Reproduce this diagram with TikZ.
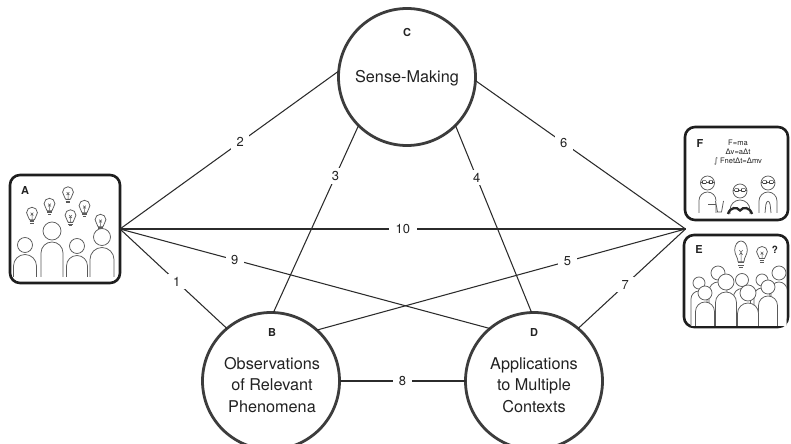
\documentclass[tikz,border=0pt]{standalone}
\usepackage{fontspec}
\setmainfont{TeX Gyre Heros}
\newfontfamily\dejavu{DejaVu Sans}
\definecolor{circcol}{HTML}{3C3C3C}
\definecolor{boxcol}{HTML}{1E1E1E}
\definecolor{linecol}{HTML}{2B2B2B}
\definecolor{figcol}{HTML}{5A5A5A}
\definecolor{txtcol}{HTML}{222222}
\newcommand{\Dl}{{\dejavu Δ}}
\newcommand{\pers}[5]{%
  \draw[fig,fill=white] (#1-#4,#5) -- (#1-#4,#2+#3+2+#4) arc[start angle=180,end angle=360,radius=#4] -- (#1+#4,#5);
  \draw[fig,fill=white] (#1,#2) circle[radius=#3];
}
\newcommand{\glasses}[2]{%
  \draw[fig] (#1-7,#2) -- (#1+7,#2);
  \fill[figcol!70!black,rounded corners=0.8bp] (#1-5.6,#2-1.7) rectangle (#1-1,#2+1.9);
  \fill[figcol!70!black,rounded corners=0.8bp] (#1+1,#2-1.7) rectangle (#1+5.6,#2+1.9);
  \fill[white] (#1-4.6,#2-0.8) rectangle (#1-2,#2+1);
  \fill[white] (#1+2,#2-0.8) rectangle (#1+4.6,#2+1);
}
\tikzset{
  fig/.style={draw=figcol,line width=0.75bp},
  circ/.style={circle,draw=circcol,line width=2.8bp,minimum size=137bp,inner sep=0pt,outer sep=0pt},
  panel/.style={draw=boxcol,line width=2.6bp,rounded corners=10bp,inner sep=0pt,outer sep=0pt},
  conn/.style={draw=linecol,line width=1.05bp},
  num/.style={fill=white,inner xsep=5.5bp,inner ysep=3bp,text=txtcol,font=\fontsize{13}{13}\selectfont},
  letter/.style={text=txtcol,font=\bfseries\fontsize{11}{11}\selectfont},
  maintext/.style={text=txtcol,align=center,font=\fontsize{16.3}{21.5}\selectfont},
  formula/.style={text=txtcol,font=\fontsize{7.6}{9}\selectfont},
  bulbpic/.pic={
    \draw[fig,fill=white] (-1.6,3) .. controls (-1.8,1.2) and (-3.5,0.2) .. (-3.5,-1.5)
      arc[start angle=180,end angle=360,radius=3.5] .. controls (3.5,0.2) and (1.8,1.2) .. (1.6,3) -- cycle;
    \draw[fig] (-1.6,3.2) -- (1.6,3.2) (-1.6,4.3) -- (1.6,4.3) (-1,5.3) -- (1,5.3);
    \draw[fig,line width=0.5bp] (0,3) -- (0,-0.6) (-0.9,-1.5) -- (0.9,0.3) (0.9,-1.5) -- (-0.9,0.3);
  }
}
\begin{document}
\begin{tikzpicture}[x=1bp,y=-1bp]
\useasboundingbox (0,0) rectangle (791,444);
\fill[white] (0,0) rectangle (791,444);

% panels
\node[panel,minimum width=110bp,minimum height=108bp] (A) at (65,229) {};
\node[panel,minimum width=103bp,minimum height=93bp] (F) at (736.5,173.5) {};
\node[panel,minimum width=104bp,minimum height=92bp] (E) at (736,281) {};
\coordinate (pR) at (685.5,229);

% circles
\node[circ] (C) at (407,77) {};
\node[circ] (B) at (271,381) {};
\node[circ] (D) at (534,381) {};

\node[letter] (Cl) at (407,33) {C};
\node[maintext] (Ct) at (407,78) {Sense-Making};
\node[letter] (Bl) at (272,333) {B};
\node[maintext] (Bt) at (272,385) {Observations\\of Relevant\\Phenomena};
\node[letter] (Dl) at (534,333) {D};
\node[maintext] (Dt) at (534,385) {Applications\\to Multiple\\Contexts};

% connectors
\draw[conn] (A.east) -- node[num,pos=0.53] (n1) {1} (B.130);
\draw[conn] (A.east) -- node[num,pos=0.55] (n2) {2} (C.175);
\draw[conn] (B.88) -- node[num,pos=0.73] (n3) {3} (C.225);
\draw[conn] (C.-45) -- node[num,pos=0.28] (n4) {4} (D.92);
\draw[conn] (B.48) -- node[num,pos=0.68] (n5) {5} (pR);
\draw[conn] (C.-3) -- node[num,pos=0.42] (n6) {6} (pR);
\draw[conn] (D.50) -- node[num,pos=0.44] (n7) {7} (pR);
\draw[conn] (B.east) -- node[num,pos=0.5] (n8) {8} (D.west);
\draw[conn] (A.east) -- node[num,pos=0.31] (n9) {9} (D.130);
\draw[conn] (A.east) -- node[num,pos=0.5,inner xsep=7bp] (n10) {10} (pR);

% ---- panel A pictogram
\node[letter] (Al) at (25,191) {A};
\pic[scale=1.55] at (32,215) {bulbpic};
\pic[scale=1.55] at (49.5,206) {bulbpic};
\pic[scale=1.55] at (68,194.5) {bulbpic};
\pic[scale=1.55] at (70.5,217.5) {bulbpic};
\pic[scale=1.55] at (84.5,208) {bulbpic};
\pic[scale=1.55] at (100.5,222) {bulbpic};
\pers{25}{245}{7.5}{11.5}{277}
\pers{52}{231}{9}{11}{277}
\pers{77}{246}{7.5}{10.5}{277}
\pers{102}{237}{8.5}{12}{277}

% ---- panel F pictogram
\node[letter] (Fl) at (700,144) {F};
\node[formula] (f1) at (738,143) {F=ma};
\node[formula] (f2) at (738,152) {\Dl v=a\Dl t};
\node[formula] (f3) at (738,161) {{\dejavu ∫} Fnet\Dl t=\Dl mv};
\pers{707.5}{183}{7}{8.5}{213}
\glasses{707.5}{182}
\draw[fig] (708,204) -- (717,204);
\draw[fig,fill=white] (715.5,201) -- (717.5,212) -- (721.5,212) -- (723.5,201);
\pers{740}{191}{7}{10}{214}
\glasses{740}{190}
\draw[line width=2.3bp,black!85] (728,214) .. controls (730,207) and (737,206.5) .. (740,210.5) .. controls (743,206.5) and (750,207) .. (752,214);
\pers{768}{183}{7}{9}{213}
\glasses{768}{182}
\draw[fig,fill=white] (765,213) -- (765.8,205) .. controls (766.5,200) and (769.5,200) .. (770.2,205) -- (771,213);

% ---- panel E pictogram
\node[letter] (El) at (699,250) {E};
\pic[xscale=1.8,yscale=2.6] at (741,254) {bulbpic};
\pic[xscale=1.55,yscale=1.5] at (762,254) {bulbpic};
\node[letter,font=\bfseries\fontsize{10}{10}\selectfont] (q) at (775,250) {?};
\begin{scope}
\clip (686,237) rectangle (786.5,325.5);
\pers{718}{273}{7}{9}{327}
\pers{779}{273}{7}{8}{327}
\pers{742}{280}{6.5}{8.5}{327}
\pers{762}{280}{6}{8}{327}
\pers{699}{283}{6}{8}{327}
\pers{726}{282}{8}{10.5}{327}
\pers{768}{287}{7}{9.5}{327}
\pers{705}{293}{7}{9.5}{327}
\pers{748}{293}{8}{10.5}{327}
\end{scope}
\end{tikzpicture}
\end{document}
